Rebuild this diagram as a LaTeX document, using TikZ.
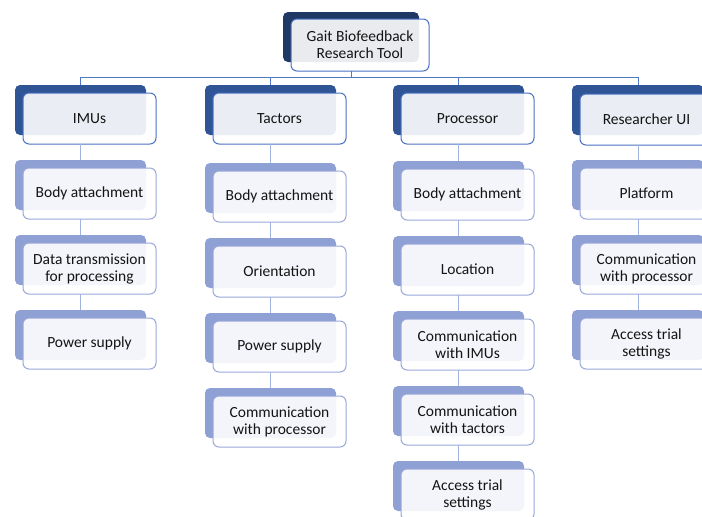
\documentclass[tikz,border=0pt]{standalone}
\usepackage{fontspec}
\setmainfont{Carlito}
\definecolor{navy}{HTML}{203864}
\definecolor{midblue}{HTML}{2F5597}
\definecolor{lavender}{HTML}{8FA0D5}
\definecolor{edgeA}{HTML}{4A72C4}
\definecolor{edgeB}{HTML}{9AA8DA}
\definecolor{busline}{HTML}{4F79C6}
\definecolor{colline}{HTML}{A3B3DF}
\tikzset{
  backbox/.style={anchor=north west, draw=none, rounded corners=5pt, inner sep=0pt, outer sep=0pt,
    minimum width=131pt, minimum height=50pt},
  backR/.style={backbox, fill=navy, minimum width=136pt},
  backA/.style={backbox, fill=midblue},
  backB/.style={backbox, fill=lavender},
  frontbox/.style={anchor=north west, rounded corners=6pt, inner sep=0pt, outer sep=0pt,
    fill=white, fill opacity=0.9, text opacity=1, line width=1pt,
    minimum width=133pt, minimum height=51pt, align=center,
    font=\fontsize{15.5}{17}\selectfont, text=black!92},
  frontR/.style={frontbox, draw=edgeA, minimum width=138pt, minimum height=52pt},
  frontA/.style={frontbox, draw=edgeA},
  frontB/.style={frontbox, draw=edgeB},
  bus/.style={draw=busline, line width=0.9pt},
  colconn/.style={draw=colline, line width=0.9pt},
}
% one tile: dark back card plus the offset labelled card on top
\newcommand\tile[5]{%
  \node[back#4] (#1B) at (#2,#3) {};
  \node[front#4] (#1) at (#2+8,#3+8) {#5};
}
\begin{document}
\begin{tikzpicture}[x=1pt,y=-1pt]
\useasboundingbox (0,0) rectangle (702,517);
\clip (0,0) rectangle (702,517);
\fill[white] (0,0) rectangle (702,517);
\coordinate (busy) at (0,77);

% root
\node[backR] (rootB) at (283,12) {};
\node[frontR] (root) at (291,19) {Gait Biofeedback\\Research Tool};

% column heads
\tile{imu}{15}{85}{A}{IMUs}
\tile{tac}{205}{85}{A}{Tactors}
\tile{pro}{393}{85}{A}{Processor}
\node[backA, minimum width=132pt] (uiB) at (572,85) {};
\node[frontA] (ui) at (580,94) {Researcher UI};

% bus from the root to the four heads
\draw[bus] (rootB.south |- root.south) -- (rootB.south |- busy);
\draw[bus] (imuB.north |- busy) -- (uiB.north |- busy);
\foreach \c in {imu,tac,pro,ui} \draw[bus] (\c B.north |- busy) -- (\c B.north);

% IMUs column
\tile{imuA}{15}{160}{B}{Body attachment}
\tile{imuBb}{15}{235}{B}{Data transmission\\for processing}
\tile{imuC}{15}{310}{B}{Power supply}

% Tactors column
\tile{tacA}{205}{163}{B}{Body attachment}
\tile{tacBb}{205}{238}{B}{Orientation}
\tile{tacC}{205}{313}{B}{Power supply}
\tile{tacD}{205}{388}{B}{Communication\\with processor}

% Processor column
\tile{proA}{393}{161}{B}{Body attachment}
\tile{proBb}{393}{236}{B}{Location}
\tile{proC}{393}{311}{B}{Communication\\with IMUs}
\tile{proD}{393}{386}{B}{Communication\\with tactors}
\tile{proE}{393}{461}{B}{Access trial\\settings}

% Researcher UI column
\node[backB, minimum width=132pt] (uiAB) at (572,160) {};
\node[frontB] (uiA) at (580,168) {Platform};
\node[backB, minimum width=132pt] (uiBbB) at (572,235) {};
\node[frontB] (uiBb) at (580,243) {Communication\\with processor};
\node[backB, minimum width=132pt] (uiCB) at (572,310) {};
\node[frontB] (uiC) at (580,318) {Access trial\\settings};

% links between stacked cards in each column
\foreach \a/\b in {imu/imuA, imuA/imuBb, imuBb/imuC,
                   tac/tacA, tacA/tacBb, tacBb/tacC, tacC/tacD,
                   pro/proA, proA/proBb, proBb/proC, proC/proD, proD/proE,
                   ui/uiA, uiA/uiBb, uiBb/uiC}
  \draw[colconn] (\a B.south |- \a.south) -- (\b B.north);
\end{tikzpicture}
\end{document}
